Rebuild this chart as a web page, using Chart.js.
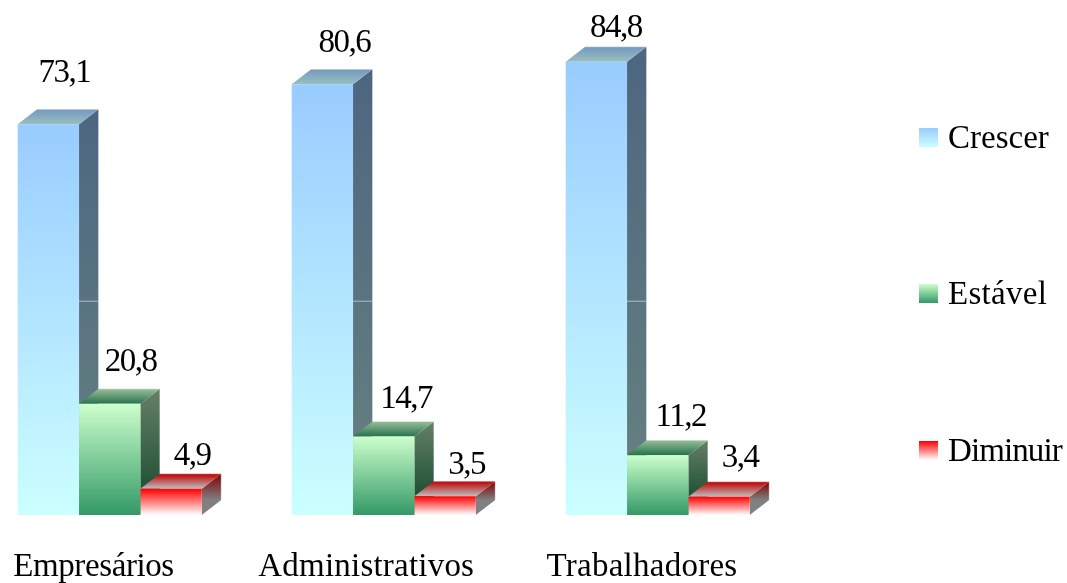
<!DOCTYPE html>
<html><head><meta charset="utf-8">
<style>html,body{margin:0;padding:0;background:#fff;overflow:hidden}canvas{display:block}</style>
<script src="https://cdn.jsdelivr.net/npm/chart.js@4"></script>
</head><body><canvas id="c" width="1067" height="583"></canvas>
<script>
const categories = ["Empresários", "Administrativos", "Trabalhadores"];
const seriesNames = ["Crescer", "Estável", "Diminuir"];
const crescer = [73.1, 80.6, 84.8];
const estavel = [20.8, 14.7, 11.2];
const diminuir = [4.9, 3.5, 3.4];

const topColors = [[153,204,255],[204,255,204],[255,0,0]];
const bottomColors = [[204,255,255],[51,153,102],[255,255,255]];
const DEPTH_X = 19.5, DEPTH_Y = 15, SEAM_VALUE = 40;
const FONT = '"Liberation Serif"';
// label nudges relative to each bar's top centre [dx, baseline above top]
const nudges = [
  [[16,42],[22,32],[19.5,25]],
  [[21,33],[22.5,28],[23,29]],
  [[21,24],[21.5,22],[21,30]]
];
const catLayout = [[-16.2,-0.4],[-17.5,0.22],[-15.7,0.25]]; // centre shift, letter spacing
const legendLayout = [[128,148,0],[284,304,0.3],[441,461,-0.9]]; // swatch top, baseline, spacing

const rgb = (c,f=1)=>`rgb(${c.map(v=>Math.round(v*f)).join(',')})`;
function vGrad(ctx,y0,y1,i,f){
  const g=ctx.createLinearGradient(0,y0,0,y1);
  g.addColorStop(0,rgb(topColors[i],f));
  g.addColorStop(1,rgb(bottomColors[i],f));
  return g;
}
const comma = v => v.toFixed(1).replace('.',',');

const faces = {
  id:'faces',
  beforeDatasetsDraw(chart){
    const ctx=chart.ctx, base=chart.scales.y.getPixelForValue(0);
    ctx.save();
    chart.data.datasets.forEach((ds,i)=>{
      chart.getDatasetMeta(i).data.forEach((bar,j)=>{
        const l=bar.x-bar.width/2, r=bar.x+bar.width/2, t=bar.y;
        // side face
        ctx.fillStyle=vGrad(ctx,t-DEPTH_Y,base-DEPTH_Y,i,0.5);
        ctx.beginPath();
        ctx.moveTo(r,t);ctx.lineTo(r+DEPTH_X,t-DEPTH_Y);
        ctx.lineTo(r+DEPTH_X,base-DEPTH_Y);ctx.lineTo(r,base);ctx.closePath();ctx.fill();
        // top face
        ctx.fillStyle=vGrad(ctx,t-DEPTH_Y,t,i,0.75);
        ctx.beginPath();
        ctx.moveTo(l,t);ctx.lineTo(l+DEPTH_X,t-DEPTH_Y);
        ctx.lineTo(r+DEPTH_X,t-DEPTH_Y);ctx.lineTo(r,t);ctx.closePath();ctx.fill();
        // pale back edge
        ctx.strokeStyle='rgba(255,255,255,0.35)';ctx.lineWidth=1;
        ctx.beginPath();
        ctx.moveTo(l+DEPTH_X,t-DEPTH_Y);ctx.lineTo(r+DEPTH_X,t-DEPTH_Y);
        ctx.lineTo(r+DEPTH_X,base-DEPTH_Y);ctx.stroke();
        // seam on tall sides
        if(ds.data[j]>SEAM_VALUE){
          const y=chart.scales.y.getPixelForValue(SEAM_VALUE);
          ctx.strokeStyle='rgba(200,215,220,0.75)';
          ctx.beginPath();ctx.moveTo(r,y);ctx.lineTo(r+DEPTH_X,y);ctx.stroke();
        }
      });
    });
    ctx.restore();
  },
  afterDatasetsDraw(chart){
    const ctx=chart.ctx;
    ctx.save();
    ctx.fillStyle='#000';ctx.textBaseline='alphabetic';
    // value labels
    ctx.font='33px '+FONT;ctx.textAlign='center';ctx.letterSpacing='-1.5px';
    chart.data.datasets.forEach((ds,i)=>{
      chart.getDatasetMeta(i).data.forEach((bar,j)=>{
        ctx.fillText(comma(ds.data[j]),bar.x+nudges[i][j][0],bar.y-nudges[i][j][1]);
      });
    });
    // category labels
    chart.data.labels.forEach((lab,j)=>{
      ctx.letterSpacing=catLayout[j][1]+'px';
      ctx.fillText(lab,chart.scales.x.getPixelForValue(j)+catLayout[j][0],575.5);
    });
    // legend
    ctx.textAlign='left';
    seriesNames.forEach((n,i)=>{
      const [top,bl,sp]=legendLayout[i];
      ctx.fillStyle=vGrad(ctx,top,top+19,i,1);
      ctx.fillRect(919,top,19,19);
      ctx.fillStyle='#000';
      ctx.letterSpacing=sp+'px';
      ctx.fillText(n,948,bl);
    });
    ctx.restore();
  }
};

const mk=(i,data)=>({
  label:seriesNames[i],data,clip:false,borderWidth:0,
  backgroundColor(c){
    const {chart,dataIndex}=c;
    if(!chart.chartArea) return rgb(topColors[i]);
    const y=chart.scales.y;
    return vGrad(chart.ctx,y.getPixelForValue(data[dataIndex]),y.getPixelForValue(0),i,1);
  }
});

new Chart(document.getElementById('c'),{
  type:'bar',
  data:{labels:categories,datasets:[mk(0,crescer),mk(1,estavel),mk(2,diminuir)]},
  plugins:[faces],
  options:{
    responsive:false,animation:false,
    categoryPercentage:0.6715,barPercentage:1,
    layout:{padding:{left:109.7,right:409.3,top:34,bottom:68}},
    plugins:{legend:{display:false},tooltip:{enabled:false}},
    scales:{
      x:{display:false,offset:false},
      y:{display:false,min:0,max:90}
    }
  }
});
</script></body></html>
